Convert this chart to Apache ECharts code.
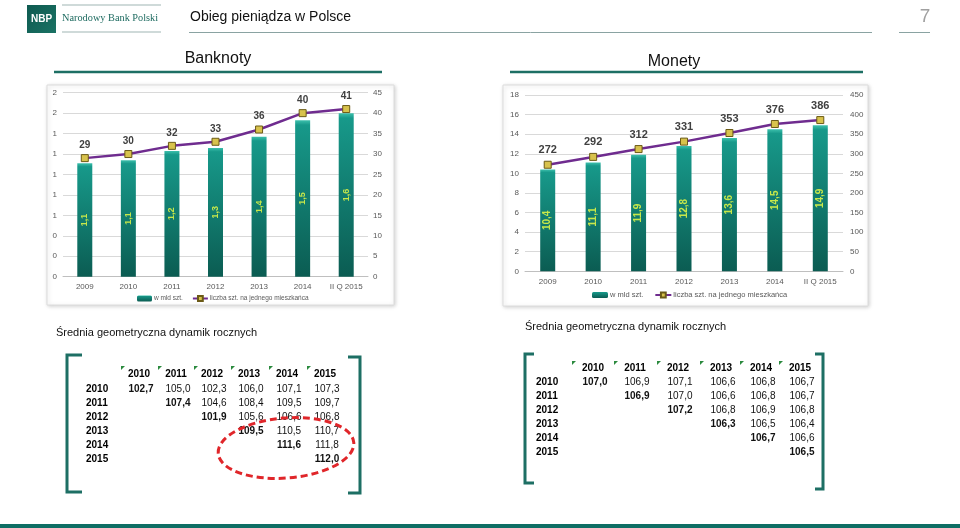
<!DOCTYPE html>
<html><head><meta charset="utf-8">
<script src="https://cdn.jsdelivr.net/npm/echarts@6/dist/echarts.min.js"></script>
<style>html,body{margin:0;padding:0;background:#fff}#c{width:960px;height:528px}</style>
</head><body><div id="c"></div>
<script>
// ---- data ----
const categories = ['2009', '2010', '2011', '2012', '2013', '2014', 'II Q 2015'];
const banknotyMld = [1.11, 1.14, 1.23, 1.26, 1.37, 1.53, 1.60];
const banknotyPerCapita = [29, 30, 32, 33, 36, 40, 41];
const monetyMld = [10.4, 11.1, 11.9, 12.8, 13.6, 14.5, 14.9];
const monetyPerCapita = [272, 292, 312, 331, 353, 376, 386];
const seriesNames = ['w mld szt.', 'liczba szt. na jednego mieszkańca'];
const tableYears = ['2010', '2011', '2012', '2013', '2014', '2015'];
const banknotyDyn = [
  [102.7, 105.0, 102.3, 106.0, 107.1, 107.3],
  [null, 107.4, 104.6, 108.4, 109.5, 109.7],
  [null, null, 101.9, 105.6, 106.6, 106.8],
  [null, null, null, 109.5, 110.5, 110.7],
  [null, null, null, null, 111.6, 111.8],
  [null, null, null, null, null, 112.0]
];
const monetyDyn = [
  [107.0, 106.9, 107.1, 106.6, 106.8, 106.7],
  [null, 106.9, 107.0, 106.6, 106.8, 106.7],
  [null, null, 107.2, 106.8, 106.9, 106.8],
  [null, null, null, 106.3, 106.5, 106.4],
  [null, null, null, null, 106.7, 106.6],
  [null, null, null, null, null, 106.5]
];

// ---- styles ----
const FONT = '"Liberation Sans", Arial, sans-serif';
const TEAL = '#1d6f64';
const fmt1 = v => v.toFixed(1).replace('.', ',');
const barColor = new echarts.graphic.LinearGradient(0, 0, 0, 1, [
  {offset: 0, color: '#3cc0ac'}, {offset: 0.03, color: '#17998a'},
  {offset: 1, color: '#0b5c52'}
]);

const chart = echarts.init(document.getElementById('c'), null, {renderer: 'canvas'});

function axisSet(gridIdx, leftMax, leftInt, rightMax, rightInt, leftFmt, rMargin) {
  const lab = {color: '#595959', fontSize: 8, fontFamily: FONT};
  return [
    {type: 'value', gridIndex: gridIdx, min: 0, max: leftMax, interval: leftInt,
      axisLabel: Object.assign({margin: 6, formatter: leftFmt}, lab),
      axisLine: {show: false}, axisTick: {show: false},
      splitLine: {lineStyle: {color: '#d9d9d9', width: 1}}},
    {type: 'value', gridIndex: gridIdx, min: 0, max: rightMax, interval: rightInt, position: 'right',
      axisLabel: Object.assign({margin: rMargin}, lab),
      axisLine: {show: false}, axisTick: {show: false}, splitLine: {show: false}}
  ];
}

function xAxis(gridIdx) {
  return {type: 'category', gridIndex: gridIdx, data: categories,
    axisLine: {lineStyle: {color: '#bfbfbf'}}, axisTick: {show: false},
    axisLabel: {color: '#595959', fontSize: 8, fontFamily: FONT, margin: 6, interval: 0}};
}

function barSeries(idx, data, fs) {
  return {name: seriesNames[0], type: 'bar', xAxisIndex: idx, yAxisIndex: idx * 2,
    data: data, barWidth: 15,
    itemStyle: {color: barColor},
    label: {show: true, position: 'inside', rotate: 90, color: '#c8e84a', fontWeight: 'bold',
      fontSize: fs, fontFamily: FONT, formatter: p => fmt1(p.value)}};
}
function lineSeries(idx, data, fs, dist) {
  return {name: seriesNames[1], type: 'line', xAxisIndex: idx, yAxisIndex: idx * 2 + 1,
    data: data, symbol: 'rect', symbolSize: 7,
    lineStyle: {color: '#6f2c8f', width: 2.5},
    itemStyle: {color: '#d8c24c', borderColor: '#6b5a16', borderWidth: 1},
    label: {show: true, position: 'top', distance: dist, color: '#404040', fontWeight: 'bold',
      fontSize: fs, fontFamily: FONT}};
}

// ---- graphics ----
const g = [];
function text(x, y, t, o) {
  g.push({type: 'text', x: x, y: y, style: Object.assign({text: t, fontFamily: FONT, fontSize: 10,
    fill: '#000', textAlign: 'left', textVerticalAlign: 'middle'}, o || {})});
}
function line(x1, y1, x2, y2, color, w) {
  g.push({type: 'line', shape: {x1: x1, y1: y1, x2: x2, y2: y2}, style: {stroke: color, lineWidth: w}});
}
// chart boxes
[[47, 85, 347, 220], [503, 85, 365, 221]].forEach(b => {
  g.push({type: 'rect', z: -10, shape: {x: b[0], y: b[1], width: b[2], height: b[3]},
    style: {fill: '#fff', stroke: '#dcdcdc', lineWidth: 1, shadowBlur: 4, shadowColor: 'rgba(0,0,0,0.18)',
      shadowOffsetX: 1, shadowOffsetY: 1}});
});
// header
g.push({type: 'rect', shape: {x: 27, y: 5, width: 29, height: 28},
  style: {fill: new echarts.graphic.LinearGradient(0, 0, 1, 1, [{offset: 0, color: '#0e5a50'}, {offset: 1, color: '#1a7264'}])}});
text(41.5, 19, 'NBP', {fill: '#fff', fontWeight: 'bold', fontSize: 10, textAlign: 'center'});
line(62, 5, 161, 5, '#9fb5b3', 1);
line(62, 32, 161, 32, '#9fb5b3', 1);
text(62, 18.5, 'Narodowy Bank Polski', {fontFamily: '"Liberation Serif", "DejaVu Serif", serif', fontSize: 10.3, fill: '#1e6b60'});
text(190, 17, 'Obieg pieniądza w Polsce', {fontSize: 14, fill: '#111'});
line(189, 32.5, 872, 32.5, '#8aa3a2', 1);
text(925, 17, '7', {fontSize: 19, fill: '#a0a0a0', textAlign: 'center'});
line(899, 32.5, 930, 32.5, '#8aa3a2', 1);
// section titles
text(218, 59, 'Banknoty', {fontSize: 16, fill: '#111', textAlign: 'center'});
line(54, 72, 382, 72, TEAL, 2.5);
text(674, 62, 'Monety', {fontSize: 16, fill: '#111', textAlign: 'center'});
line(510, 72, 863, 72, TEAL, 2.5);
// table captions
text(56, 333, 'Średnia geometryczna dynamik rocznych', {fontSize: 11, fill: '#111'});
text(525, 327, 'Średnia geometryczna dynamik rocznych', {fontSize: 11, fill: '#111'});

function bracket(xv, xt, y1, y2) {
  g.push({type: 'polyline', shape: {points: [[xt, y1], [xv, y1], [xv, y2], [xt, y2]]},
    style: {stroke: TEAL, lineWidth: 3, fill: null}});
}
function table(data, colX, headY, rowY, rowLabelX, triDx, triDy) {
  tableYears.forEach((yr, j) => {
    text(colX[j], headY, yr, {fontWeight: 'bold', textAlign: 'center'});
    const tx = colX[j] + triDx, ty = headY + triDy;
    g.push({type: 'polygon', shape: {points: [[tx, ty], [tx + 4, ty], [tx, ty + 4]]}, style: {fill: '#2b8a3e'}});
  });
  data.forEach((row, i) => {
    text(rowLabelX, rowY[i], tableYears[i], {fontWeight: 'bold'});
    row.forEach((v, j) => {
      if (v === null) return;
      text(colX[j] + 2, rowY[i], fmt1(v), {textAlign: 'center', fontWeight: i === j ? 'bold' : 'normal', fill: '#111'});
    });
  });
}
bracket(67, 82, 355, 492);
bracket(360, 348, 357, 493);
table(banknotyDyn, [139, 176, 212, 249, 287, 325], 374, [389, 403, 417, 431, 445, 459], 86, -18, -8);
bracket(525, 534, 354, 483);
bracket(823, 815, 354, 489);
table(monetyDyn, [593, 635, 678, 721, 761, 800], 368, [382, 396, 410, 424, 438, 452], 536, -21, -7);
// red dashed ellipse
g.push({type: 'ellipse', shape: {cx: 0, cy: 0, rx: 68, ry: 30}, x: 286, y: 448, rotation: 0.08,
  style: {stroke: '#e0262a', lineWidth: 3, fill: null, lineDash: [7, 4]}});
// bottom bar
g.push({type: 'rect', shape: {x: 0, y: 524, width: 960, height: 4}, style: {fill: '#0e6e64'}});

const ya = axisSet(0, 1.8, 0.2, 45, 5, v => String(Math.round(v)), 5)
  .concat(axisSet(1, 18, 2, 450, 50, v => String(v), 7));

chart.setOption({
  animation: false,
  textStyle: {fontFamily: FONT},
  grid: [
    {left: 63, right: 592, top: 92.7, bottom: 251.3},
    {left: 525, right: 117, top: 95, bottom: 256.7}
  ],
  xAxis: [xAxis(0), xAxis(1)],
  yAxis: ya,
  legend: [
    {left: 132, top: 290, itemWidth: 15, itemHeight: 6, itemGap: 9, data: seriesNames,
      textStyle: {fontSize: 6.5, color: '#595959', fontFamily: FONT, padding: [0, 0, 0, -3]}, selectedMode: false},
    {left: 587, top: 286, itemWidth: 16, itemHeight: 6, itemGap: 11, data: seriesNames,
      textStyle: {fontSize: 7.5, color: '#595959', fontFamily: FONT, padding: [0, 0, 0, -3]}, selectedMode: false}
  ],
  series: [
    barSeries(0, banknotyMld, 9), lineSeries(0, banknotyPerCapita, 10, 4),
    barSeries(1, monetyMld, 10), lineSeries(1, monetyPerCapita, 11, 5)
  ],
  graphic: {elements: g}
});
</script></body></html>
